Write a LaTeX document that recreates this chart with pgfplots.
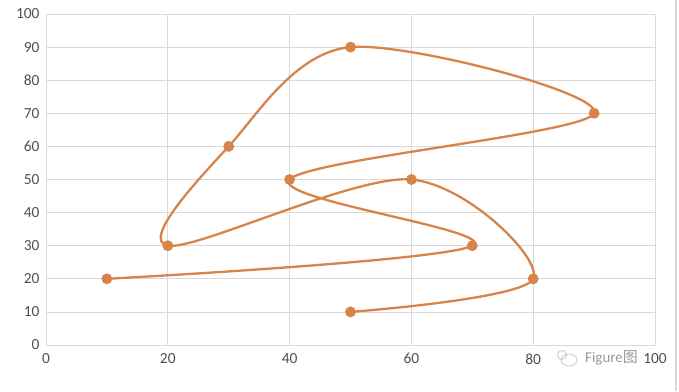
\documentclass[border=0pt]{standalone}
\usepackage{fontspec}
\setmainfont{Carlito}
\newfontfamily\cjk{Noto Sans CJK SC}
\usepackage{pgfplots}
\pgfplotsset{compat=1.18}
\definecolor{lineorange}{RGB}{214,132,74}
\definecolor{gridgray}{RGB}{217,217,217}
\definecolor{ticktext}{RGB}{80,80,80}
\begin{document}
\begin{tikzpicture}[x=1bp,y=1bp]
\path[use as bounding box] (0,0) rectangle (679,391);
\draw[gridgray,line width=1.2bp] (676,0) -- (676,391);
\begin{axis}[
  at={(46bp,46bp)}, anchor=south west,
  scale only axis, width=609bp, height=331bp,
  xmin=0, xmax=100, ymin=0, ymax=100,
  xtick={0,20,...,100}, ytick={0,10,...,100},
  grid=major,
  major grid style={gridgray, line width=0.7bp},
  axis line style={gridgray, line width=0.7bp},
  tick style={draw=none},
  ticklabel style={font=\fontsize{15.5}{17}\selectfont, text=ticktext},
  /pgf/number format/assume math mode=true,
  xticklabel style={yshift=-5bp},
  yticklabel style={xshift=-3bp},
]
\addplot[lineorange, line width=2.3bp, smooth, tension=0.55,
  mark=*, mark size=4.2bp, mark options={fill=lineorange, draw=lineorange}]
coordinates {(10,20) (70,30) (40,50) (90,70) (50,90) (30,60) (20,30) (60,50) (80,20) (50,10)};
\end{axis}
\node[anchor=west, text=gray!80, font=\fontsize{15}{17}\selectfont, inner sep=1bp] at (584,33) {Figure{\cjk 图}};
\draw[gray!60, line width=0.5bp] (569,31) ellipse (8 and 6);
\draw[gray!60, line width=0.5bp] (562,36) circle (4.5);
\end{tikzpicture}
\end{document}
